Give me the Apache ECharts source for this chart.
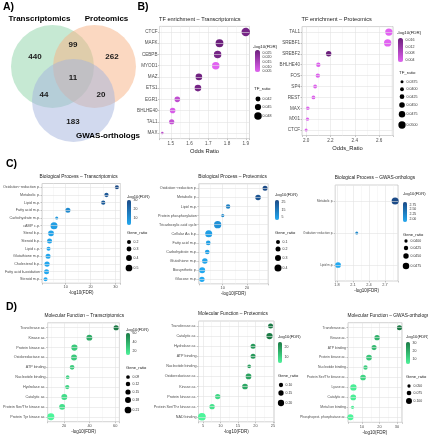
<!DOCTYPE html>
<html><head><meta charset="utf-8">
<script src="https://cdn.jsdelivr.net/npm/echarts@6/dist/echarts.min.js"></script>
<style>html,body{margin:0;padding:0;background:#fff}#c{width:428px;height:440px}</style>
</head><body><div id="c"></div>
<script>
// ================= DATA =================
// A) Venn diagram
const vennSets = ['Transcriptomics', 'Proteomics', 'GWAS-orthologs'];
const vennRegions = ['T', 'TP', 'P', 'TPG', 'TG', 'PG', 'G'];
const vennCounts = [440, 99, 262, 11, 44, 20, 183];

// B) TF enrichment – Transcriptomics
const tfTransCats  = ['CTCF','MAFK','CEBPB','MYOD1','MAZ','ETS1','EGR1','BHLHE40','TAL1','MAX'];
const tfTransOdds  = [1.90, 1.76, 1.75, 1.74, 1.65, 1.645, 1.535, 1.51, 1.505, 1.455];
const tfTransFDR   = [0.026, 0.028, 0.026, 0.004, 0.027, 0.026, 0.011, 0.006, 0.010, 0.012];
const tfTransRatio = [0.0505, 0.049, 0.048, 0.048, 0.046, 0.046, 0.0435, 0.0435, 0.0425, 0.036];
const tfTransFdrBreaks   = ['0.025','0.020','0.015','0.010','0.005'];
const tfTransRatioBreaks = ['0.042','0.045','0.048'];

// B) TF enrichment – Proteomics
const tfProtCats  = ['TAL1','SREBF1','SREBF2','BHLHE40','FOS','SP4','REST','MAX','MXI1','CTCF'];
const tfProtOdds  = [2.68, 2.67, 2.185, 2.10, 2.096, 2.074, 2.06, 2.014, 2.011, 2.0];
const tfProtFDR   = [0.003, 0.003, 0.017, 0.0035, 0.0035, 0.0035, 0.0035, 0.0035, 0.0035, 0.0035];
const tfProtRatio = [0.050, 0.050, 0.0445, 0.0415, 0.0415, 0.040, 0.040, 0.039, 0.0385, 0.0375];
const tfProtFdrBreaks   = ['0.016','0.012','0.008','0.004'];
const tfProtRatioBreaks = ['0.0375','0.0400','0.0425','0.0450','0.0475','0.0500'];

// C) Biological Process – Transcriptomics
const bpTransCats  = ['Oxidation\u2212reduction p.','Metabolic p.','Lipid m.p.','Fatty acid m.p.','Carbohydrate m.p.','cAMP c.p.','Sterol b.p.','Steroid b.p.','Lipid c.p.','Glutathione m.p.','Cholesterol b.p.','Fatty acid b-oxidation','Steroid m.p.'];
const bpTransFDR   = [30.6, 26.4, 25.1, 10.9, 6.4, 5.3, 4.1, 3.5, 3.1, 2.9, 2.5, 2.3, 1.9];
const bpTransRatio = [0.20, 0.23, 0.23, 0.31, 0.10, 0.53, 0.39, 0.31, 0.20, 0.31, 0.34, 0.31, 0.20];
const bpTransFdrBreaks   = ['30','20','10'];
const bpTransRatioBreaks = ['0.2','0.3','0.4','0.5'];

// C) Biological Process – Proteomics
const bpProtCats  = ['Oxidation\u2212reduction p.','Metabolic p.','Lipid m.p.','Protein phosphorylation','Tricarboxylic acid cycle','Cellular Aa b.p.','Fatty acid m.p.','Carbohydrate m.p.','Glutathione m.p.','Biosynthetic p.','Glucose m.p.'];
const bpProtFDR   = [27.5, 24.6, 12.2, 10.0, 7.9, 4.2, 4.0, 3.6, 2.6, 1.5, 1.4];
const bpProtRatio = [0.20, 0.25, 0.15, 0.03, 0.43, 0.40, 0.17, 0.17, 0.25, 0.30, 0.23];
const bpProtFdrBreaks   = ['25','15','5'];
const bpProtRatioBreaks = ['0.1','0.2','0.3','0.4'];

// C) Biological Process – GWAS-orthologs
const bpGwasCats  = ['Metabolic p.','Oxidation\u2212reduction p.','Lipid m.p.'];
const bpGwasFDR   = [2.89, 2.17, 1.82];
const bpGwasRatio = [0.0487, 0.0393, 0.0456];
const bpGwasFdrBreaks   = ['2.75','2.50','2.25','2.00'];
const bpGwasRatioBreaks = ['0.0400','0.0425','0.0450','0.0475'];

// D) Molecular Function – Transcriptomics
const mfTransCats  = ['Transferase ac.','Kinase ac.','Protein kinase ac.','Oxidoreductase ac.','ATP binding','Nucleotide binding','Hydrolase ac.','Catalytic ac.','Protein Ser/Thr kinase ac.','Protein Tyr kinase ac.'];
const mfTransFDR   = [60.75, 39.8, 28.1, 27.8, 26.3, 22.8, 22.5, 20.2, 18.5, 9.7];
const mfTransRatio = [0.15, 0.18, 0.19, 0.18, 0.13, 0.09, 0.115, 0.18, 0.18, 0.22];
const mfTransFdrBreaks   = ['60','40','20'];
const mfTransRatioBreaks = ['0.09','0.12','0.15','0.18','0.21'];

// D) Molecular Function – Proteomics
const mfProtCats  = ['Transferase ac.','Catalytic ac.','Hydrolase ac.','ATP binding','Nucleotide binding','Oxidoreductase ac.','Kinase ac.','Protein kinase ac.','Protein Ser/Thr kinase ac.','NAD binding'];
const mfProtFDR   = [24.3, 24.0, 19.3, 19.3, 18.2, 18.0, 17.0, 9.2, 7.6, 4.7];
const mfProtRatio = [0.135, 0.20, 0.135, 0.135, 0.07, 0.17, 0.17, 0.15, 0.15, 0.27];
const mfProtFdrBreaks   = ['20','10'];
const mfProtRatioBreaks = ['0.10','0.15','0.20'];

// D) Molecular Function – GWAS-orthologs
const mfGwasCats  = ['Transferase ac.','Kinase ac.','ATP binding','Protein kinase ac.','Nucleotide binding','Protein Ser/Thr kinase ac.','Lyase ac.','Catalytic ac.','Metal ion binding','Phosphoprot. phosphatase ac.'];
const mfGwasFDR   = [31.4, 18.6, 16.9, 14.0, 12.0, 10.6, 5.1, 5.0, 4.6, 3.4];
const mfGwasRatio = [0.083, 0.088, 0.083, 0.095, 0.07, 0.095, 0.107, 0.095, 0.05, 0.10];
const mfGwasFdrBreaks   = ['30','20','10'];
const mfGwasRatioBreaks = ['0.050','0.075','0.100'];

// ================= STYLE / LAYOUT =================
const FONT = '"Liberation Sans", Arial, Helvetica, sans-serif';
const PAL = {
  purple: ['#e262f2', '#6c1f7c'],
  blue:   ['#22a9f1', '#1b4a87'],
  green:  ['#4cf59a', '#1b7a45']
};
const BP = 'Biological Process \u2013 ', MF = 'Molecular Function \u2013 ';
const panels = [
  { title:'TF enrichment \u2013 Transcriptomics', cats:tfTransCats, xs:tfTransOdds, cs:tfTransFDR, ss:tfTransRatio,
    pal:'purple', xName:'Odds Ratio', xMin:1.44, xMax:1.92, split:5, dec:1, big:true,
    grid:[159.5, 26.4, 90, 112.2], sD:[0.036,0.0505], sR:[2.5,8.5],
    leg:{ct:[253,47], cb:[255,50,5,22], cbB:tfTransFdrBreaks, st:[254,89], sTitle:'TF_ratio', sx:258, sy:[99,107,116], sB:tfTransRatioBreaks} },
  { title:'TF enrichment \u2013 Proteomics', cats:tfProtCats, xs:tfProtOdds, cs:tfProtFDR, ss:tfProtRatio,
    pal:'purple', xName:'Odds_Ratio', xMin:1.966, xMax:2.714, split:4, dec:1, big:true,
    grid:[302, 26.6, 91, 108.9], sD:[0.0375,0.050], sR:[3,7.3],
    leg:{ct:[397,33], cb:[398,38,5,24], cbB:tfProtFdrBreaks, st:[399,73], sTitle:'TF_ratio', sx:402, sy:[81.7,89.3,96.7,105,114.3,125], sB:tfProtRatioBreaks} },
  { title:BP+'Transcriptomics', cats:bpTransCats, xs:bpTransFDR, cs:bpTransFDR, ss:bpTransRatio,
    pal:'blue', xName:'-log10(FDR)', xMin:0.47, xMax:32.0, split:3, dec:0,
    grid:[40, 183.5, 80.4, 99.7], sD:[0.1,0.53], sR:[3.1,7.0],
    leg:{ct:[127,197], cb:[127,200,4,25], cbB:bpTransFdrBreaks, st:[127,233], sTitle:'Gene_ratio', sx:129, sy:[242,249,258,268], sB:bpTransRatioBreaks} },
  { title:BP+'Proteomics', cats:bpProtCats, xs:bpProtFDR, cs:bpProtFDR, ss:bpProtRatio,
    pal:'blue', xName:'-log10(FDR)', xMin:0.1, xMax:28.8, split:3, dec:0,
    grid:[198.8, 183.75, 69.4, 100.1], sD:[0.0,0.43], sR:[3,7.3],
    leg:{ct:[275,195], cb:[275,200,4,20], cbB:bpProtFdrBreaks, st:[275,233], sTitle:'Gene_ratio', sx:278, sy:[242,249,258,268], sB:bpProtRatioBreaks} },
  { title:BP+'GWAS-orthologs', cats:bpGwasCats, xs:bpGwasFDR, cs:bpGwasFDR, ss:bpGwasRatio,
    pal:'blue', xName:'-log10(FDR)', xMin:1.766, xMax:2.944, split:4, dec:1, yFs:3.0,
    grid:[335.2, 185, 62.8, 96], sD:[0.0393,0.0487], sR:[3,7],
    leg:{ct:[403,194], cb:[403,202,4,20], cbB:bpGwasFdrBreaks, st:[403,235], sTitle:'Gene_ratio', sx:406, sy:[241,248,256,266], sB:bpGwasRatioBreaks} },
  { title:MF+'Transcriptomics', cats:mfTransCats, xs:mfTransFDR, cs:mfTransFDR, ss:mfTransRatio,
    pal:'green', xName:'-log10(FDR)', xMin:7.15, xMax:63.3, split:3, dec:0,
    grid:[45, 322.8, 74.4, 98.9], sD:[0.09,0.22], sR:[3.7,6.95],
    leg:{ct:[126,330], cb:[126,333,4,22], cbB:mfTransFdrBreaks, st:[126,368], sTitle:'Gene_ratio', sx:128, sy:[377,384,392,400,410], sB:mfTransRatioBreaks} },
  { title:MF+'Proteomics', cats:mfProtCats, xs:mfProtFDR, cs:mfProtFDR, ss:mfProtRatio,
    pal:'green', xName:'-log10(FDR)', xMin:3.72, xMax:25.28, split:4, dec:0,
    grid:[198.5, 321, 75.5, 100.8], sD:[0.07,0.27], sR:[3.7,7.7],
    leg:{ct:[278,337], cb:[278,342,4,21], cbB:mfProtFdrBreaks, st:[278,376], sTitle:'Gene_ratio', sx:281, sy:[385,393,403], sB:mfProtRatioBreaks} },
  { title:MF+'GWAS-orthologs', cats:mfGwasCats, xs:mfGwasFDR, cs:mfGwasFDR, ss:mfGwasRatio,
    pal:'green', xName:'-log10(FDR)', xMin:2.0, xMax:32.8, split:3, dec:0, yFs:3.4,
    grid:[348, 322.7, 53.9, 99.6], sD:[0.05,0.107], sR:[3.3,6.34],
    leg:{ct:[406,337], cb:[406,342,4,22], cbB:mfGwasFdrBreaks, st:[406,377], sTitle:'Gene_ratio', sx:409, sy:[386,393,401], sB:mfGwasRatioBreaks} }
];

// ================= BUILD =================
const lin = (d, r) => v => r[0] + (v - d[0]) / (d[1] - d[0]) * (r[1] - r[0]);
const grids = [], xAxes = [], yAxes = [], series = [], visualMaps = [], graphics = [];

function txt(text, x, y, size, opt) {
  opt = opt || {};
  graphics.push({ type:'text', x:x, y:y, silent:true, z:100,
    style:{ text:text, fill: opt.fill || '#1a1a1a', font:(opt.bold ? 'bold ' : '') + size + 'px ' + FONT,
      align: opt.align || 'left', verticalAlign: opt.va || 'middle' } });
}

panels.forEach((p, i) => {
  const big = !!p.big;
  const yFs = p.yFs || (big ? 4.6 : 3.7), xFs = big ? 4.6 : 3.9, nameFs = big ? 5.8 : 4.5, titleFs = big ? 5.6 : 4.8;
  const [gl, gt, gw, gh] = p.grid;
  grids.push({ left:gl, top:gt, width:gw, height:gh, show:true, borderColor:'#b5b5b5', borderWidth:0.6, backgroundColor:'#fff', containLabel:false });
  const mn = p.xMin, mx = p.xMax;
  xAxes.push({ gridIndex:i, type:'value', min:mn, max:mx, splitNumber:p.split,
    name:p.xName, nameLocation:'middle', nameGap: big ? 10 : 7.5,
    nameTextStyle:{ fontSize:nameFs, color:'#1a1a1a', fontFamily:FONT },
    axisLine:{ show:false },
    axisTick:{ show:true, length:1.5, lineStyle:{ color:'#8c8c8c', width:0.5 } },
    axisLabel:{ fontSize:xFs, color:'#4d4d4d', margin: big ? 3 : 2.2, fontFamily:FONT,
      formatter: v => (Math.abs(v - mn) < 1e-6 || Math.abs(v - mx) < 1e-6) ? '' : Number(v).toFixed(p.dec) },
    splitLine:{ show:true, lineStyle:{ color:'#e2e2e2', width:0.6 } },
    minorTick:{ show:false, splitNumber:2 },
    minorSplitLine:{ show:true, lineStyle:{ color:'#f0f0f0', width:0.5 } }
  });
  yAxes.push({ gridIndex:i, type:'category', data:p.cats, inverse:true,
    axisLine:{ show:false },
    axisTick:{ show:true, alignWithLabel:true, length:1.5, lineStyle:{ color:'#8c8c8c', width:0.5 } },
    axisLabel:{ fontSize:yFs, color:'#4d4d4d', margin:2, interval:0, fontFamily:FONT },
    splitLine:{ show:false }
  });
  // horizontal category grid lines
  series.push({ type:'scatter', xAxisIndex:i, yAxisIndex:i, data:[], z:1, silent:true, animation:false,
    markLine:{ silent:true, symbol:['none','none'], label:{ show:false }, animation:false,
      lineStyle:{ color:'#e2e2e2', width:0.6, type:'solid' },
      emphasis:{ disabled:true },
      data:p.cats.map(c => ({ yAxis:c })) } });
  const sizeFn = lin(p.sD, p.sR);
  series.push({ type:'scatter', xAxisIndex:i, yAxisIndex:i, z:3, animation:false,
    encode:{ x:0, y:1 },
    data:p.cats.map((c, k) => [p.xs[k], c, p.cs[k], p.ss[k]]),
    symbolSize: val => sizeFn(val[3]),
    itemStyle:{ opacity:1 }
  });
  const cmin = Math.min(...p.cs), cmax = Math.max(...p.cs);
  const L = p.leg;
  visualMaps.push({ type:'continuous', seriesIndex:2 * i + 1, dimension:2, min:cmin, max:cmax,
    inRange:{ color:PAL[p.pal] }, calculable:false, hoverLink:false, realtime:false,
    left:L.cb[0], top:L.cb[1], itemWidth:L.cb[2], itemHeight:L.cb[3], padding:0, orient:'vertical',
    text:null, textStyle:{ fontSize:1, color:'rgba(0,0,0,0)' } });
  // titles
  txt(p.title, gl - 0.5, gt - 7, titleFs, { fill:'#1a1a1a' });
  // legend titles and labels
  const lfs = big ? 4.4 : 4.1, llfs = big ? 3.6 : 3.5;
  txt('-log10(FDR)', L.ct[0], L.ct[1], lfs);
  L.cbB.forEach(b => {
    const v = parseFloat(b);
    const y = L.cb[1] + (cmax - v) / (cmax - cmin) * L.cb[3];
    txt(b, L.cb[0] + L.cb[2] + 2.5, y, llfs, { fill:'#333' });
  });
  txt(L.sTitle, L.st[0], L.st[1], lfs);
  L.sB.forEach((b, k) => {
    const d = sizeFn(parseFloat(b));
    graphics.push({ type:'circle', silent:true, z:100, shape:{ cx:L.sx, cy:L.sy[k], r:d / 2 }, style:{ fill:'#000' } });
    txt(b, L.sx + 4.5, L.sy[k], llfs, { fill:'#333' });
  });
});

// ---- Venn (panel A) ----
const vennCircles = [
  { cx:52.5, cy:66.5, r:41.5, fill:'rgba(141,211,168,0.5)' },
  { cx:94.5, cy:66.5, r:41.5, fill:'rgba(247,178,132,0.5)' },
  { cx:73.5, cy:100.5, r:41.5, fill:'rgba(164,180,222,0.5)' }
];
vennCircles.forEach(c => graphics.push({ type:'circle', silent:true, z:10, shape:{ cx:c.cx, cy:c.cy, r:c.r }, style:{ fill:c.fill } }));
const vennLabelPos = { T:[35,56.5], TP:[73,45], P:[112,56.5], TPG:[73,78], TG:[44,94.5], PG:[101,94.5], G:[73,122] };
vennRegions.forEach((rg, k) => txt(String(vennCounts[k]), vennLabelPos[rg][0], vennLabelPos[rg][1], 8, { bold:true, align:'center', fill:'#1a1a1a' }));
const vennSetPos = [[39.5,19,'center'], [106.5,19,'center'], [76,135.5,'left']];
vennSets.forEach((s, k) => txt(s, vennSetPos[k][0], vennSetPos[k][1], 8, { bold:true, align:vennSetPos[k][2], fill:'#000' }));

// panel letters
txt('A)', 3, 7, 10.5, { bold:true, fill:'#000' });
txt('B)', 137.5, 7, 10.5, { bold:true, fill:'#000' });
txt('C)', 6, 164, 10.5, { bold:true, fill:'#000' });
txt('D)', 6, 307, 10.5, { bold:true, fill:'#000' });

const chart = echarts.init(document.getElementById('c'), null, { renderer:'canvas', width:428, height:440 });
chart.setOption({
  backgroundColor:'#fff',
  animation:false,
  grid:grids, xAxis:xAxes, yAxis:yAxes, series:series, visualMap:visualMaps,
  graphic:{ elements:graphics }
});
</script></body></html>
